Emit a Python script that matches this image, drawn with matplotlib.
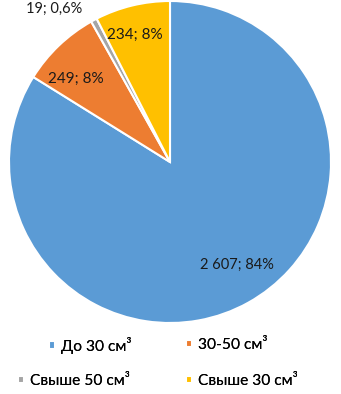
import matplotlib
matplotlib.use("Agg")
import matplotlib.pyplot as plt
import numpy as np

categories = ["До 30 см³", "30-50 см³", "Свыше 50 см³", "Свыше 30 см³"]
values = [2607, 249, 19, 234]
pct_labels = ["84%", "8%", "0,6%", "8%"]
value_labels = ["2 607", "249", "19", "234"]
colors = ["#5B9BD5", "#ED7D31", "#A5A5A5", "#FFC000"]

plt.rcParams['font.family'] = ['Lato', 'DejaVu Sans']

W, H = 341, 394
fig = plt.figure(figsize=(W / 100, H / 100), dpi=100)
cx, cy, r = 170, 162, 161
ax = fig.add_axes([(cx - r) / W, (H - cy - r) / H, 2 * r / W, 2 * r / H])
wedges, _ = ax.pie(values, colors=colors, startangle=90, counterclock=False,
                   wedgeprops=dict(edgecolor="white", linewidth=1.5), radius=1)
ax.set_xlim(-1, 1)
ax.set_ylim(-1, 1)
ax.set_aspect("equal")
ax.axis("off")

# label placement: (radial distance, angle offset in degrees)
placement = [(0.76, 4), (0.78, 5), (1.19, 9), (0.82, 2)]
sizes = [10.5, 11, 10.5, 11]
for w, vl, pl, (rd, off), fs in zip(wedges, value_labels, pct_labels, placement, sizes):
    ang = np.deg2rad((w.theta1 + w.theta2) / 2 + off)
    ax.text(rd * np.cos(ang), rd * np.sin(ang), f"{vl}; {pl}", ha="center", va="center",
            fontsize=fs, color="#1a1a1a", clip_on=False)

common = dict(frameon=False, fontsize=11.2, handlelength=0.4, handleheight=0.4,
              handletextpad=0.4, borderaxespad=0, borderpad=0)
# legend entry anchors (x of marker left edge, y centre) in pixels
anchors = [(49, 345), (186, 345), (18, 381), (186, 381)]
for wdg, cat, (px, py) in zip(wedges, categories, anchors):
    leg = fig.legend([wdg], [cat], loc="center left",
                     bbox_to_anchor=(px / W, 1 - py / H), **common)
    fig.add_artist(leg)

fig.savefig("out.png", dpi=100)
